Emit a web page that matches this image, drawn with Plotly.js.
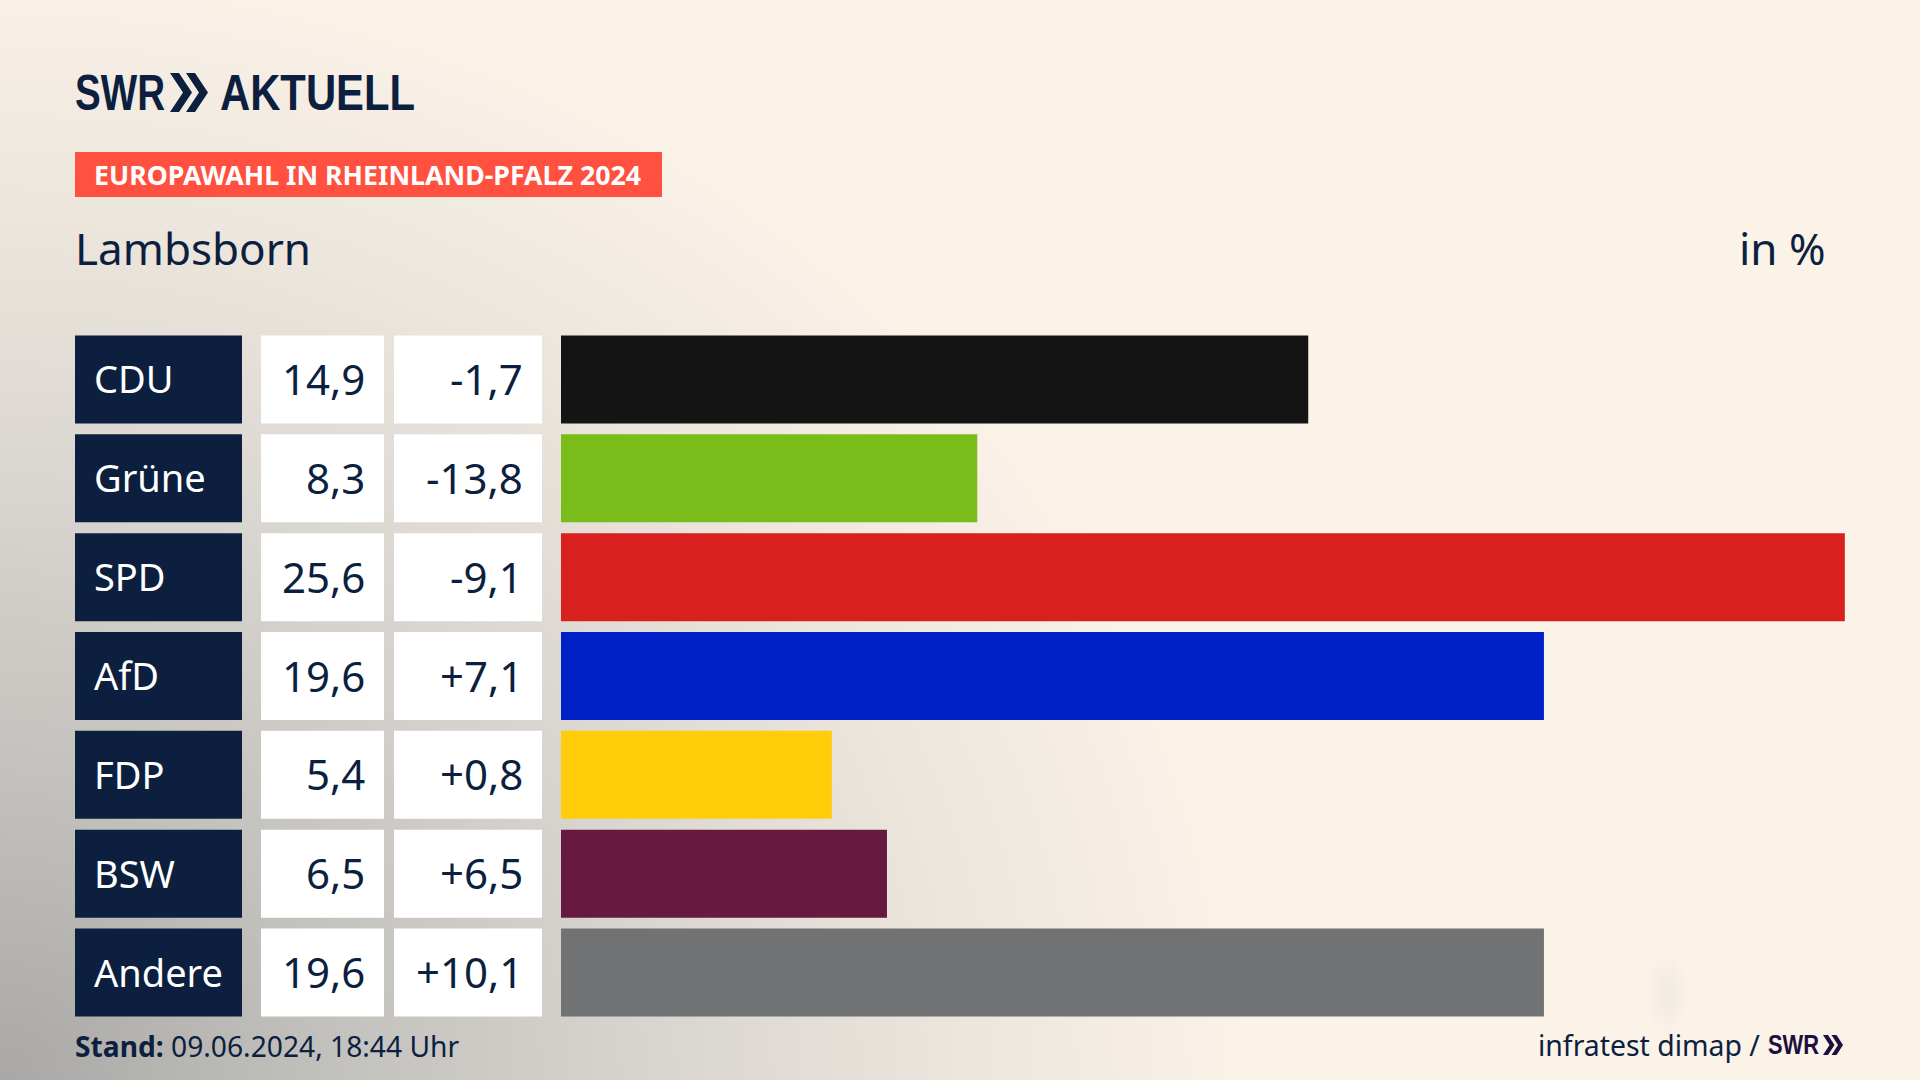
<!DOCTYPE html>
<html><head><meta charset="utf-8">
<script src="https://cdn.plot.ly/plotly-3.0.1.min.js"></script>
<style>
html,body{margin:0;padding:0;width:1920px;height:1080px;overflow:hidden;background:#FBF2E8;}
body{background:
 radial-gradient(ellipse 22px 42px at 1667px 993px, rgba(232,227,219,.55) 0, rgba(251,242,232,0) 100%),
 radial-gradient(ellipse 1250px 1120px at 0px 1080px, #a9a8a6 0%, #c4c2be 28%, #d8d4cf 52%, #ebe5dc 76%, #FBF2E8 100%);
 background-color:#FBF2E8;}
#chart{width:1920px;height:1080px;}
</style></head><body><div id="chart"></div>
<script>
const parties = ["CDU","Grüne","SPD","AfD","FDP","BSW","Andere"];
const votes = [14.9,8.3,25.6,19.6,5.4,6.5,19.6];
const changes = [-1.7,-13.8,-9.1,7.1,0.8,6.5,10.1];
const barColors = ["#141414","#7ABD1A","#D8201E","#0021C7","#FFCD0A","#661A3F","#717274"];

const NAVY="#0C1F3F", W=1920, H=1080, TOP=330, BOTTOM=58;
const BODY="'Noto Sans', sans-serif", LOGO="'Liberation Sans',sans-serif";
const px=x=>x/W, py=y=>1-(y-TOP)/(H-TOP-BOTTOM);
const fmt=v=>v.toFixed(1).replace(".",",");
const fmtChange=v=>(v>0?"+":"")+fmt(v);

const cellBand=0.445;
const shapes=[], annotations=[];
const rect=(x0,x1,i,c)=>shapes.push({type:"rect",layer:"below",xref:"paper",yref:"y",x0:px(x0),x1:px(x1),y0:i-cellBand,y1:i+cellBand,fillcolor:c,line:{width:0}});
const text=(t,x,y,anchor,size,color,family,weight)=>annotations.push({text:t,xref:"paper",yref:"paper",x:px(x),y:py(y),xanchor:anchor,yanchor:"middle",showarrow:false,align:anchor,font:{family:family||BODY,size,color:color||NAVY,weight:weight||400},borderpad:0,borderwidth:0});
const rowText=(t,x,i,anchor,color,size)=>annotations.push({text:t,xref:"paper",yref:"y",x:px(x),y:i,yshift:1,xanchor:anchor,yanchor:"middle",showarrow:false,font:{family:BODY,size,color},borderpad:0});

parties.forEach((p,i)=>{
  rect(75,242,i,NAVY); rect(261,384,i,"#FFFFFF"); rect(394,542,i,"#FFFFFF");
  rowText(p,93,i,"left","#FFFFFF",38);
  rowText(fmt(votes[i]),366,i,"right",NAVY,42);
  rowText(fmtChange(changes[i]),524,i,"right",NAVY,42);
});

// header block
shapes.push({type:"rect",layer:"below",xref:"paper",yref:"paper",x0:px(75),x1:px(662),y0:py(152),y1:py(197),fillcolor:"#FF5040",line:{width:0}});
text("EUROPAWAHL IN RHEINLAND-PFALZ 2024",94,175,"left",27,"#FFFFFF",BODY,700);
text("Lambsborn",75,248,"left",44,NAVY);
text("in %",1826,248,"right",44,NAVY);
text("SWR",75,93,"left",50,NAVY,LOGO,700);
text("AKTUELL",220,93,"left",50,NAVY,LOGO,700);
// footer
text("<b>Stand:</b> 09.06.2024, 18:44 Uhr",75,1046,"left",28.2,NAVY);
text("infratest dimap /",1760,1045,"right",28.4,NAVY);
text("SWR",1768,1045,"left",27,"#1D0F40",LOGO,700);

// logo chevrons
function chevron(x,y0,y1,w,t,c){
  const m=(y0+y1)/2;
  const pts=[[x,y0],[x+t,y0],[x+t+w,m],[x+t,y1],[x,y1],[x+w,m]];
  const d="M"+pts.map(p=>px(p[0])+","+py(p[1])).join("L")+"Z";
  shapes.push({type:"path",layer:"above",xref:"paper",yref:"paper",path:d,fillcolor:c,line:{width:0}});
}
chevron(170,73,112,13,9,NAVY); chevron(186,73,112,13,9,NAVY);
chevron(1823,1035,1055,6.5,5,"#1D0F40"); chevron(1831.5,1035,1055,6.5,5,"#1D0F40");

const trace={type:"bar",orientation:"h",y:parties,x:votes,width:2*cellBand,marker:{color:barColors,line:{width:0}},hoverinfo:"skip",showlegend:false};
const layout={width:W,height:H,margin:{l:0,r:0,t:TOP,b:BOTTOM,pad:0},
 paper_bgcolor:"rgba(0,0,0,0)",plot_bgcolor:"rgba(0,0,0,0)",showlegend:false,
 xaxis:{domain:[561/W,1],range:[0,(W-561)/50.15],visible:false,fixedrange:true},
 yaxis:{type:"category",categoryorder:"array",categoryarray:parties,range:[6.5,-0.5],visible:false,fixedrange:true},
 shapes,annotations};
Plotly.newPlot("chart",[trace],layout,{displayModeBar:false,staticPlot:true}).then(()=>{
  // the broadcaster's condensed wordmark: fit the bold letterforms to their measured widths
  document.querySelectorAll("text.annotation-text").forEach(el=>{
    const t=el.textContent, fs=parseFloat(el.style.fontSize);
    let len=null;
    if(t==="SWR") len=fs>=40?90:51;
    else if(t==="AKTUELL") len=195;
    else if(t.startsWith("EUROPAWAHL")) len=547;
    if(len){el.setAttribute("textLength",len);el.setAttribute("lengthAdjust","spacingAndGlyphs");}
  });
});
</script></body></html>
